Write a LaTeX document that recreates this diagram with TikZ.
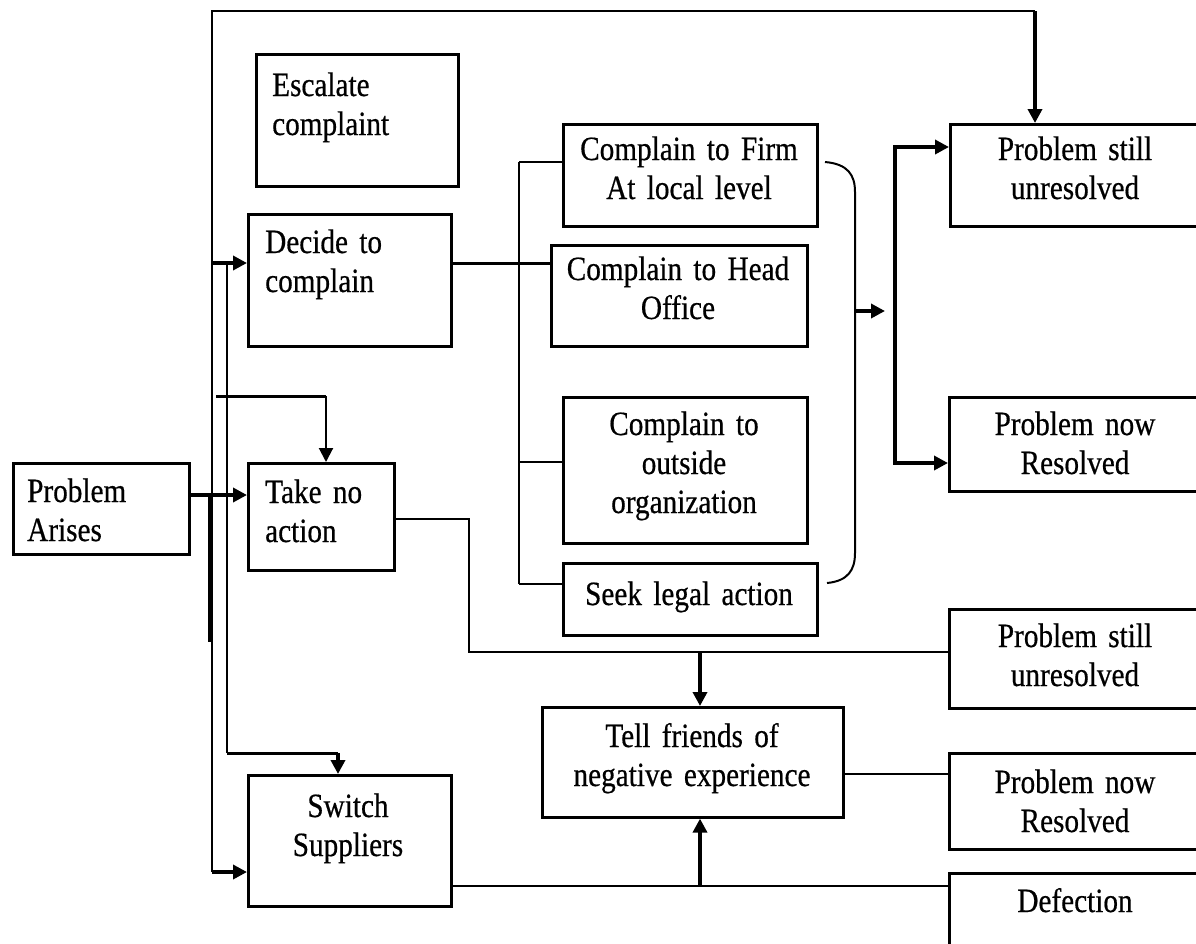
\documentclass[tikz,border=0pt]{standalone}
\usepackage{fontspec}
\setmainfont{Liberation Serif}[FakeStretch=0.86, WordSpace=0.7, FakeBold=0.5]
\usetikzlibrary{arrows.meta}

\begin{document}
\begin{tikzpicture}[x=1pt,y=-1pt,
  box/.style={draw, line width=2.6pt, inner sep=0pt, anchor=north west},
  lefttxt/.style={inner sep=0pt, font=\fontsize{34}{39}\selectfont,
    text width=190pt, align=left, anchor=base west},
  midtxt/.style={inner sep=0pt, font=\fontsize{34}{39}\selectfont,
    text width=320pt, align=center, anchor=base},
  thinline/.style={line width=2pt},
  midline/.style={line width=3pt},
  boldline/.style={line width=4.5pt},
  tip/.style={-{Triangle[length=14pt,width=14pt]}}]

\useasboundingbox (0,0) rectangle (1196,943);

% boxes
\node[box, minimum width=176pt, minimum height=91pt]  (pa)    at (12,462)  {};
\node[box, minimum width=202pt, minimum height=132pt] (esc)   at (255,53)  {};
\node[box, minimum width=203pt, minimum height=132pt] (dec)   at (247,213) {};
\node[box, minimum width=146pt, minimum height=107pt] (tna)   at (247,462) {};
\node[box, minimum width=203pt, minimum height=131pt] (sw)    at (247,774) {};
\node[box, minimum width=254pt, minimum height=102pt] (firm)  at (562,123) {};
\node[box, minimum width=256pt, minimum height=101pt] (head)  at (550,244) {};
\node[box, minimum width=244pt, minimum height=146pt] (out)   at (562,396) {};
\node[box, minimum width=254pt, minimum height=72pt]  (legal) at (562,562) {};
\node[box, minimum width=301pt, minimum height=110pt] (tell)  at (541,706) {};
\node[box, minimum width=260pt, minimum height=102pt] (psua)  at (949,123) {};
\node[box, minimum width=260pt, minimum height=94pt]  (pnra)  at (948,396) {};
\node[box, minimum width=260pt, minimum height=99pt]  (psub)  at (948,608) {};
\node[box, minimum width=260pt, minimum height=96pt]  (pnrb)  at (948,752) {};
\node[box, minimum width=260pt, minimum height=90pt]  (defc)  at (948,872) {};

% texts
\node[lefttxt] (pa-t)  at (27,502)  {Problem\\Arises};
\node[lefttxt] (esc-t) at (272,96)  {Escalate\\complaint};
\node[lefttxt] (dec-t) at (265,253) {Decide to\\complain};
\node[lefttxt] (tna-t) at (265,503) {Take no\\action};
\node[midtxt] (sw-t)    at (348,817)  {Switch\\Suppliers};
\node[midtxt] (firm-t)  at (689,160)  {Complain to Firm\\At local level};
\node[midtxt] (head-t)  at (678,280)  {Complain to Head\\Office};
\node[midtxt] (out-t)   at (684,435)  {Complain to\\outside\\organization};
\node[midtxt] (legal-t) at (689,605)  {Seek legal action};
\node[midtxt] (tell-t)  at (692,747)  {Tell friends of\\negative experience};
\node[midtxt] (psua-t)  at (1075,160) {Problem still\\unresolved};
\node[midtxt] (pnra-t)  at (1075,435) {Problem now\\Resolved};
\node[midtxt] (psub-t)  at (1075,647) {Problem still\\unresolved};
\node[midtxt] (pnrb-t)  at (1075,793) {Problem now\\Resolved};
\node[midtxt] (defc-t)  at (1075,912) {Defection};

% junction points
\coordinate (trunktop) at (212,11);
\coordinate (toprt)    at (1035,11);
\coordinate (trunkbot) at (212,872);
\coordinate (decin)    at (212,263);
\coordinate (tnain)    at (188,495);
\coordinate (swlead)   at (227,263);
\coordinate (swbend)   at (227,753);
\coordinate (swdrop)   at (338,753);
\coordinate (tnalead)  at (216,396);
\coordinate (tnadrop)  at (326,396);
\coordinate (brtop)    at (519,162);
\coordinate (brmid)    at (519,462);
\coordinate (brbot)    at (519,584);
\coordinate (decout)   at (450,263);
\coordinate (brace)    at (855,311);
\coordinate (braceout) at (885,311);
\coordinate (splittop) at (895,147);
\coordinate (splitbot) at (895,463);
\coordinate (noact)    at (393,519);
\coordinate (noactdn)  at (469,519);
\coordinate (lowrun)   at (469,652);
\coordinate (tellin)   at (700,652);
\coordinate (tellout)  at (842,774);
\coordinate (swout)    at (450,886);
\coordinate (tellup)   at (700,886);

% left trunk and the escalation path over the top
\draw[thinline] (trunkbot) -- (trunktop) -- (toprt);
\draw[boldline, tip] (toprt) -- (toprt |- psua.north);
\draw[boldline] (210,495) -- (210,642);
\draw[boldline, tip] (trunkbot) -- (trunkbot -| sw.west);
\draw[boldline, tip] (decin) -- (decin -| dec.west);
\draw[boldline, tip] (tnain) -- (tnain -| tna.west);
\draw[thinline] (swlead) -- (swbend);
\draw[midline] (swbend) -- (swdrop);
\draw[boldline, tip] (swdrop) -- (swdrop |- sw.north);
\draw[midline] (tnalead) -- (tnadrop);
\draw[thinline, tip] (tnadrop) -- (tnadrop |- tna.north);

% complaint channels
\draw[midline] (decout) -- (decout -| head.west);
\draw[thinline] (brtop) -- (brbot);
\draw[thinline] (brtop) -- (brtop -| firm.west);
\draw[thinline] (brmid) -- (brmid -| out.west);
\draw[thinline] (brbot) -- (brbot -| legal.west);

% brace collecting the channels
\draw[thinline] (825,162) .. controls (848,164) and (855,175) .. (855,192)
  -- (855,553) .. controls (855,570) and (848,581) .. (827,583);
\draw[boldline, tip] (brace) -- (braceout);
\draw[boldline, tip] (splittop |- splitbot) -- (splittop) -- (splittop -| psua.west);
\draw[boldline, tip] (splittop) -- (splitbot) -- (splitbot -| pnra.west);

% outcomes of no action and of switching
\draw[thinline] (noact) -- (noactdn) -- (lowrun) -- (lowrun -| psub.west);
\draw[boldline, tip] (tellin) -- (tellin |- tell.north);
\draw[thinline] (tellout) -- (tellout -| pnrb.west);
\draw[thinline] (swout) -- (swout -| defc.west);
\draw[boldline, tip] (tellup) -- (tellup |- tell.south);

\end{tikzpicture}
\end{document}
